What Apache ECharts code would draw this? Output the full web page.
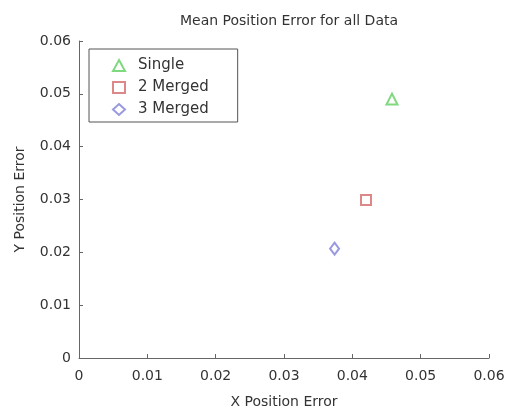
<!DOCTYPE html>
<html>
<head>
<meta charset="utf-8">
<script src="https://cdn.jsdelivr.net/npm/echarts@6/dist/echarts.min.js"></script>
<style>
  html, body { margin: 0; padding: 0; background: #fff; }
  #main { width: 508px; height: 414px; }
</style>
</head>
<body>
<div id="main"></div>
<script>
// values
const seriesNames = ['Single', '2 Merged', '3 Merged']
const singleData = [[0.0458, 0.0490]]
const merged2Data = [[0.0420, 0.0299]]
const merged3Data = [[0.0374, 0.0207]]
const axisTicks = [0, 0.01, 0.02, 0.03, 0.04, 0.05, 0.06]

const chart = echarts.init(document.getElementById('main'))
const font = 'DejaVu Sans, sans-serif'
const axisCommon = {
  type: 'value',
  min: axisTicks[0],
  max: axisTicks[axisTicks.length - 1],
  interval: 0.01,
  nameLocation: 'middle',
  nameTextStyle: { color: '#333', fontSize: 14, fontFamily: font },
  axisLine: { show: true, lineStyle: { color: '#666', width: 1 } },
  axisTick: { show: true, inside: true, length: 4, lineStyle: { color: '#666' } },
  axisLabel: {
    color: '#333', fontSize: 14, fontFamily: font,
    formatter: v => v === 0 ? '0' : String(+v.toFixed(2))
  },
  splitLine: { show: false }
}

const option = {
  animation: false,
  title: {
    text: 'Mean Position Error for all Data',
    left: 284,
    textAlign: 'center',
    top: 9,
    textStyle: { color: '#333', fontSize: 14, fontWeight: 'normal', fontFamily: font }
  },
  grid: { left: 79, right: 19, top: 41, bottom: 54 },
  legend: {
    orient: 'vertical',
    left: 89,
    top: 49,
    data: seriesNames,
    itemWidth: 12,
    itemHeight: 11,
    itemGap: 7,
    padding: [9, 29, 5, 23],
    borderColor: '#555',
    borderWidth: 1,
    backgroundColor: '#fff',
    textStyle: { color: '#333', fontSize: 15, fontFamily: font, padding: [0, 0, 0, 8] }
  },
  xAxis: Object.assign({}, axisCommon, {
    name: 'X Position Error', nameGap: 37,
    axisLabel: Object.assign({}, axisCommon.axisLabel, { margin: 11 })
  }),
  yAxis: Object.assign({}, axisCommon, { name: 'Y Position Error', nameGap: 52 }),
  series: [
    {
      name: seriesNames[0], type: 'scatter', data: singleData,
      symbol: 'emptyTriangle', symbolSize: 11,
      itemStyle: { color: '#5fcf5f', borderWidth: 1 }
    },
    {
      name: seriesNames[1], type: 'scatter', data: merged2Data,
      symbol: 'emptyRect', symbolSize: 10,
      itemStyle: { color: '#d46a6a', borderWidth: 1 }
    },
    {
      name: seriesNames[2], type: 'scatter', data: merged3Data,
      symbol: 'emptyDiamond', symbolSize: [9, 12],
      itemStyle: { color: '#8080d8', borderWidth: 1 }
    }
  ]
}
chart.setOption(option)
</script>
</body>
</html>
